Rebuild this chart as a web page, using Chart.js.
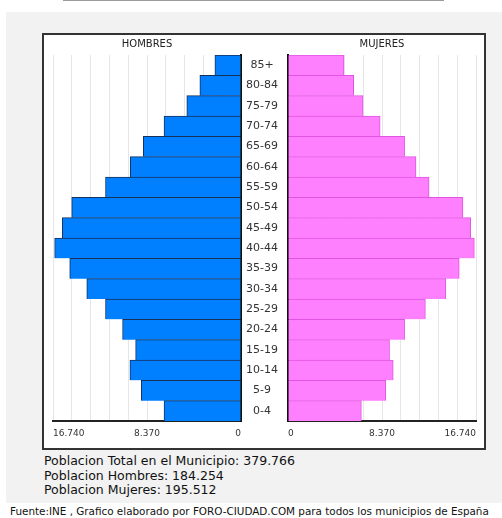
<!DOCTYPE html>
<html>
<head>
<meta charset="utf-8">
<script src="https://cdn.jsdelivr.net/npm/chart.js@4.4.1/dist/chart.umd.min.js"></script>
<style>
  body { margin: 0; background: #fff; font-family: "DejaVu Sans", sans-serif; }
  #topline { position: absolute; left: 63px; top: 0; width: 381px; height: 1px; background: #9a9a9a; }
  #panel { position: absolute; left: 6px; top: 12px; width: 496px; height: 491px; background: #f2f2f2; }
  #box { position: absolute; left: 42px; top: 33px; width: 444px; height: 417px; box-sizing: border-box;
         border: 2px solid #333; background: #fff; }
  canvas { position: absolute; }
  #info { position: absolute; left: 44px; top: 454px; font-size: 12.5px; line-height: 14.6px; color: #111; }
  #foot { position: absolute; left: 10px; top: 505px; font-size: 10.4px; color: #111; white-space: nowrap; }
</style>
</head>
<body>
<div id="topline"></div>
<div id="panel"></div>
<div id="box"></div>
<canvas id="menChart" width="205" height="414" style="left:43px; top:34px;"></canvas>
<canvas id="womenChart" width="243" height="414" style="left:241px; top:34px;"></canvas>
<div id="info">
  Poblacion Total en el Municipio: 379.766<br>
  Poblacion Hombres: 184.254<br>
  Poblacion Mujeres: 195.512
</div>
<div id="foot">Fuente:INE , Grafico elaborado por FORO-CIUDAD.COM para todos los municipios de España</div>

<script>
// Age groups, top of the pyramid first
const ageGroups = ['85+', '80-84', '75-79', '70-74', '65-69', '60-64', '55-59', '50-54', '45-49',
                   '40-44', '35-39', '30-34', '25-29', '20-24', '15-19', '10-14', '5-9', '0-4'];

const hombres = [2324, 3664, 4826, 6852, 8698, 9860, 12065, 15074, 15907,
                 16593, 15252, 13733, 12065, 10545, 9384, 9890, 8877, 6852];

const mujeres = [4983, 5849, 6684, 8206, 10384, 11399, 12563, 15576, 16263,
                 16591, 15248, 14055, 12234, 10384, 9042, 9370, 8713, 6535];

const axisMax = 16740;
const axisStep = 1674;
const labelEvery = 8370;

// 16740 -> "16.740"
function formatNum(v) {
    return String(Math.abs(Math.round(v))).replace(/\B(?=(\d{3})+(?!\d))/g, '.');
}

function xAxis(min, max) {
    return {
        min: min,
        max: max,
        afterFit: function(scale) { scale.height = 20; },
        grid: { color: '#e6e6e6', drawTicks: false },
        border: { display: true, color: '#222', width: 2 },
        ticks: {
            stepSize: axisStep,
            autoSkip: false,
            maxRotation: 0,
            align: 'inner',
            padding: 7,
            color: '#333',
            font: { family: 'DejaVu Sans', size: 9 },
            callback: function(value) {
                const v = Math.round(value);
                return v % labelEvery === 0 ? formatNum(v) : '';
            }
        }
    };
}

function titleOpts(text) {
    return {
        display: true,
        text: text,
        fullSize: false,
        color: '#222',
        font: { family: 'DejaVu Sans', size: 10, weight: 'normal', lineHeight: 1.2 },
        padding: { top: 4, bottom: 5 }
    };
}

// Men: plotted as negative values so the bars grow to the left
new Chart(document.getElementById('menChart').getContext('2d'), {
    type: 'bar',
    data: {
        labels: ageGroups,
        datasets: [{
            data: hombres.map(v => -v),
            backgroundColor: '#0080ff',
            borderColor: '#16305c',
            borderWidth: { top: 1, bottom: 0, left: 1, right: 1 },
            barPercentage: 1,
            categoryPercentage: 1
        }]
    },
    options: {
        indexAxis: 'y',
        responsive: false,
        animation: false,
        layout: { padding: { left: 10, right: 7, top: 0, bottom: 7 } },
        scales: {
            x: xAxis(-axisMax, 0),
            y: {
                position: 'right',
                afterFit: function(scale) { scale.width = 0; },
                grid: { display: false },
                border: { display: true, color: '#111', width: 2 },
                ticks: { display: false }
            }
        },
        plugins: {
            legend: { display: false },
            tooltip: { enabled: false },
            title: titleOpts('HOMBRES')
        }
    }
});

// Women: bars grow to the right, age labels sit in the gap
new Chart(document.getElementById('womenChart').getContext('2d'), {
    type: 'bar',
    data: {
        labels: ageGroups,
        datasets: [{
            data: mujeres,
            backgroundColor: '#ff80ff',
            borderColor: '#e055e0',
            borderWidth: { top: 1, bottom: 0, left: 1, right: 1 },
            barPercentage: 1,
            categoryPercentage: 1
        }]
    },
    options: {
        indexAxis: 'y',
        responsive: false,
        animation: false,
        layout: { padding: { left: 0, right: 8, top: 0, bottom: 7 } },
        scales: {
            x: xAxis(0, axisMax),
            y: {
                position: 'left',
                afterFit: function(scale) { scale.width = 47; },
                grid: { display: false, drawTicks: false },
                border: { display: true, color: '#111', width: 2 },
                ticks: {
                    crossAlign: 'center',
                    padding: 10,
                    color: '#333',
                    font: { family: 'DejaVu Sans', size: 11 }
                }
            }
        },
        plugins: {
            legend: { display: false },
            tooltip: { enabled: false },
            title: titleOpts('MUJERES')
        }
    }
});
</script>
</body>
</html>
